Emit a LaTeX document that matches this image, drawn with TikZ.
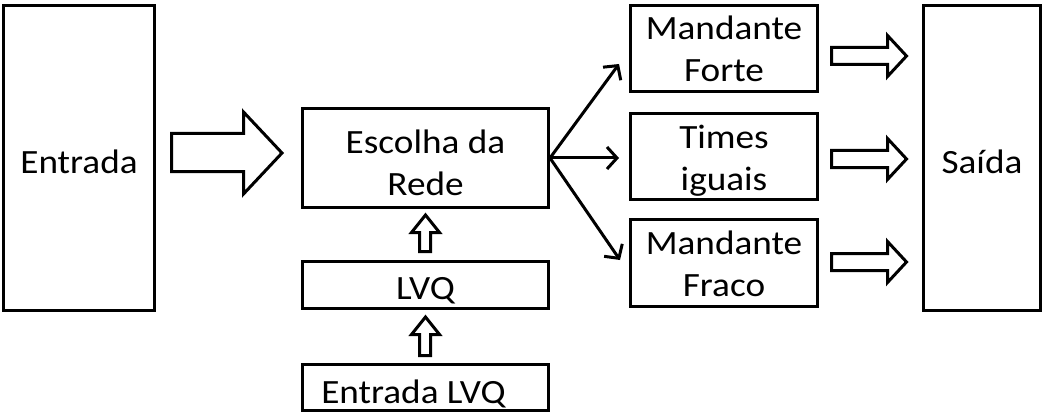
\documentclass[tikz,border=0pt]{standalone}
\usepackage{fontspec}
\setmainfont{Carlito}
\usetikzlibrary{arrows.meta}
\begin{document}
\begin{tikzpicture}[x=1pt,y=-1pt,
  box/.style={draw,line width=3pt,rectangle,inner sep=0pt},
  txt/.style={anchor=base,inner sep=0pt,align=center,xscale=1.095,transform shape,
    font=\fontsize{34}{42}\selectfont},
  blk/.style={draw,line width=3pt,fill=white,line join=miter},
  thin/.style={line width=3pt,-{Straight Barb[length=10pt,width=22pt,line width=3pt]}}]
\useasboundingbox (0,0) rectangle (1044,417);
\node[box,minimum width=151pt,minimum height=305pt] (ent) at (79,158) {};
\node[box,minimum width=246pt,minimum height=99pt] (esc) at (425.5,158) {};
\node[box,minimum width=246pt,minimum height=47pt] (lvq) at (425.5,285) {};
\node[box,minimum width=246pt,minimum height=46pt] (elvq) at (425.5,387.5) {};
\node[box,minimum width=187pt,minimum height=86pt] (mf) at (724,48.5) {};
\node[box,minimum width=187pt,minimum height=86pt] (ti) at (724,156.5) {};
\node[box,minimum width=187pt,minimum height=87pt] (mfr) at (724,263) {};
\node[box,minimum width=117pt,minimum height=305pt] (sai) at (982,158) {};
% texts (anchor = baseline of the last line)
\node[txt] (entT) at (79,173) {Entrada};
\node[txt] (escT) at (425.5,195) {Escolha da\\Rede};
\node[txt] (lvqT) at (425.5,299) {LVQ};
\node[txt] (elvqT) at (413.5,403) {Entrada LVQ};
\node[txt] (mfT) at (724,82) {Mandante\\Forte};
\node[txt] (tiT) at (724,190) {Times\\iguais};
\node[txt] (mfrT) at (724,296.5) {Mandante\\Fraco};
\node[txt] (saiT) at (982,173) {Saída};
% big input arrow
\draw[blk] (171.5,133.5) -- (243.5,133.5) -- (243.5,112) -- (282,153) -- (243.5,194) -- (243.5,171.5) -- (171.5,171.5) -- cycle;
% right block arrows
\foreach \yy in {56,159,262}{
  \draw[blk] (831.5,\yy-8.5) -- (887.5,\yy-8.5) -- (887.5,\yy-20.5) -- (906.5,\yy) -- (887.5,\yy+20.5) -- (887.5,\yy+8.5) -- (831.5,\yy+8.5) -- cycle;
}
% small up arrows
\draw[blk] (419.5,251.5) -- (419.5,232.5) -- (411.5,232.5) -- (425.5,215) -- (439.5,232.5) -- (430.5,232.5) -- (430.5,251.5) -- cycle;
\draw[blk] (419.5,355.5) -- (419.5,334.5) -- (411.5,334.5) -- (425.5,317) -- (439.5,334.5) -- (430.5,334.5) -- (430.5,355.5) -- cycle;
% thin arrows
\coordinate (t1) at (619,64);
\coordinate (t2) at (619,158);
\coordinate (t3) at (620,260);
\draw[thin] (esc.east) -- (t1);
\draw[thin] (esc.east) -- (t2);
\draw[thin] (esc.east) -- (t3);
\end{tikzpicture}
\end{document}
